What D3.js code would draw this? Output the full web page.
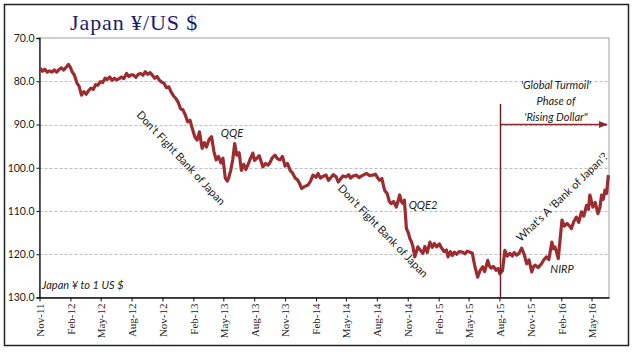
<!DOCTYPE html>
<html>
<head>
<meta charset="utf-8">
<script src="https://cdn.jsdelivr.net/npm/d3@7.9.0/dist/d3.min.js"></script>
<style>
  body { margin: 0; background: #fff; }
  svg { display: block; }
  .ann { font-family: Lato, "Open Sans", sans-serif; font-size: 11px; fill: #222; }
</style>
</head>
<body>
<svg id="chart" width="639" height="360"></svg>
<script>
// Japan yen per US dollar (roughly weekly)
const dates = [
  "2011-11-03","2011-11-10","2011-11-17","2011-11-24","2011-12-01","2011-12-08","2011-12-15",
  "2011-12-22","2011-12-29","2012-01-05","2012-01-12","2012-01-19","2012-01-26","2012-02-01",
  "2012-02-06","2012-02-13","2012-02-21","2012-02-27","2012-03-05","2012-03-12","2012-03-19",
  "2012-03-26","2012-04-02","2012-04-09","2012-04-16","2012-04-23","2012-04-30","2012-05-07",
  "2012-05-14","2012-05-21","2012-05-28","2012-06-04","2012-06-11","2012-06-18","2012-06-25",
  "2012-07-02","2012-07-09","2012-07-17","2012-07-24","2012-07-31","2012-08-07","2012-08-14",
  "2012-08-21","2012-08-28","2012-09-04","2012-09-11","2012-09-18","2012-09-25","2012-10-02",
  "2012-10-09","2012-10-16","2012-10-23","2012-10-30","2012-11-06","2012-11-13","2012-11-20",
  "2012-11-27","2012-12-04","2012-12-11","2012-12-18","2012-12-25","2013-01-01","2013-01-08",
  "2013-01-15","2013-01-22","2013-01-29","2013-02-05","2013-02-12","2013-02-19","2013-02-27",
  "2013-03-06","2013-03-12","2013-03-20","2013-03-27","2013-04-03","2013-04-10","2013-04-17",
  "2013-04-24","2013-04-30","2013-05-07","2013-05-13","2013-05-17","2013-05-23","2013-05-29",
  "2013-06-04","2013-06-10","2013-06-17","2013-06-24","2013-07-01","2013-07-07","2013-07-13",
  "2013-07-19","2013-07-28","2013-08-02","2013-08-09","2013-08-16","2013-08-27","2013-09-04",
  "2013-09-11","2013-09-17","2013-09-23","2013-10-02","2013-10-09","2013-10-17","2013-10-24",
  "2013-11-01","2013-11-08","2013-11-16","2013-11-23","2013-12-01","2013-12-08","2013-12-14",
  "2013-12-20","2013-12-30","2014-01-08","2014-01-15","2014-01-23","2014-02-01","2014-02-07",
  "2014-02-14","2014-02-21","2014-03-03","2014-03-10","2014-03-16","2014-03-24","2014-04-02",
  "2014-04-08","2014-04-15","2014-04-22","2014-05-02","2014-05-09","2014-05-15","2014-05-22",
  "2014-06-01","2014-06-09","2014-06-17","2014-06-24","2014-07-01","2014-07-10","2014-07-20",
  "2014-07-28","2014-08-04","2014-08-09","2014-08-16","2014-08-24","2014-09-01","2014-09-07",
  "2014-09-13","2014-09-20","2014-09-28","2014-10-08","2014-10-13","2014-10-17","2014-10-22",
  "2014-10-28","2014-11-03","2014-11-07","2014-11-12","2014-11-16","2014-11-22","2014-12-01",
  "2014-12-08","2014-12-16","2014-12-22","2014-12-29","2015-01-06","2015-01-13","2015-01-19",
  "2015-01-26","2015-02-03","2015-02-10","2015-02-17","2015-02-24","2015-03-01","2015-03-08",
  "2015-03-14","2015-03-20","2015-03-27","2015-04-03","2015-04-13","2015-04-20","2015-04-27",
  "2015-05-04","2015-05-12","2015-05-19","2015-05-28","2015-06-04","2015-06-12","2015-06-18",
  "2015-06-27","2015-07-02","2015-07-07","2015-07-14","2015-07-22","2015-07-28","2015-08-02",
  "2015-08-10","2015-08-17","2015-08-24","2015-09-01","2015-09-08","2015-09-14","2015-09-21",
  "2015-09-28","2015-10-06","2015-10-13","2015-10-21","2015-10-28","2015-11-05","2015-11-10",
  "2015-11-15","2015-11-24","2015-12-04","2015-12-11","2015-12-19","2015-12-26","2016-01-04",
  "2016-01-08","2016-01-13","2016-01-18","2016-01-23","2016-02-03","2016-02-10","2016-02-18",
  "2016-02-25","2016-03-02","2016-03-09","2016-03-17","2016-03-24","2016-04-01","2016-04-08",
  "2016-04-16","2016-04-22","2016-04-26","2016-05-05","2016-05-12","2016-05-20","2016-05-26",
  "2016-05-31","2016-06-05","2016-06-10","2016-06-15","2016-06-20"
];
const yen = [
  77.0, 77.7, 77.2, 77.9, 77.6, 77.9, 77.4,
  77.9, 77.3, 76.9, 77.4, 76.8, 76.1, 76.8,
  77.8, 78.6, 80.5, 81.2, 83.2, 82.4, 83.0,
  82.2, 81.6, 81.9, 80.8, 80.9, 80.1, 80.3,
  79.3, 79.6, 79.0, 79.8, 79.3, 79.7, 79.4,
  79.0, 79.4, 78.2, 78.9, 78.5, 78.6, 79.1,
  78.4, 78.2, 78.6, 77.8, 78.4, 78.0, 78.6,
  79.3, 78.9, 79.8, 80.2, 80.5, 81.5, 81.3,
  82.5, 83.4, 84.0, 84.9, 86.4, 86.6, 87.8,
  89.4, 89.0, 91.0, 92.8, 93.6, 91.7, 95.5,
  94.2, 95.2, 93.4, 92.8, 96.2, 98.2, 97.4,
  98.9, 97.8, 102.4, 103.1, 102.4, 100.6, 98.2,
  94.4, 97.1, 96.5, 100.6, 99.2, 100.4, 99.4,
  98.2, 96.6, 98.3, 97.8, 97.2, 99.8, 99.0,
  99.4, 98.8, 97.8, 97.1, 97.9, 98.2, 97.4,
  99.6, 99.0, 100.6, 101.2, 102.4, 102.8, 103.6,
  104.8, 104.3, 104.0, 103.2, 101.7, 102.2, 101.3,
  102.4, 102.0, 101.7, 102.9, 102.4, 101.6, 102.1,
  103.3, 102.6, 101.9, 102.1, 101.6, 102.4, 101.9,
  101.7, 102.3, 101.9, 101.6, 101.3, 101.8, 101.7,
  101.5, 102.4, 102.9, 102.5, 105.2, 106.0, 107.8,
  108.3, 107.8, 109.1, 106.3, 107.8, 108.2, 107.5,
  114.0, 115.1, 116.3, 117.1, 118.1, 120.6, 118.3,
  119.0, 119.8, 118.2, 119.6, 117.2, 118.4, 117.5,
  118.3, 117.6, 118.6, 119.4, 119.0, 120.6, 119.4,
  120.3, 119.5, 120.0, 119.4, 119.5, 119.9, 119.3,
  119.5, 119.7, 122.5, 125.3, 123.8, 122.9, 124.0,
  121.4, 122.7, 123.2, 122.8, 123.7, 123.3, 124.5,
  123.8, 119.1, 120.4, 119.8, 120.4, 119.6, 120.2,
  119.8, 118.6, 119.9, 122.2, 121.3, 124.1, 122.9,
  122.5, 123.1, 122.2, 121.3, 120.6, 121.2, 117.2,
  118.7, 118.3, 119.5, 121.0, 112.1, 113.5, 112.9,
  113.4, 114.1, 112.5, 111.4, 112.6, 110.2, 111.2,
  108.7, 109.6, 106.3, 109.1, 108.0, 110.6, 109.2,
  106.3, 107.3, 105.2, 105.9, 101.7
];
const yTicks = [70, 80, 90, 100, 110, 120, 130];
const xTickMonths = ["2011-11","2012-02","2012-05","2012-08","2012-11","2013-02","2013-05",
  "2013-08","2013-11","2014-02","2014-05","2014-08","2014-11","2015-02","2015-05","2015-08",
  "2015-11","2016-02","2016-05"];
const turmoilStart = "2015-08-04";
const turmoilLines = ["'Global Turmoil'", "Phase of", "'Rising Dollar\""];

const parseDay = d3.timeParse("%Y-%m-%d");
const parseMonth = d3.timeParse("%Y-%m");
const fmtMonth = d3.timeFormat("%b-%y");
const series = dates.map((d, i) => ({ date: parseDay(d), value: yen[i] }));

const svg = d3.select("#chart");
const plotL = 39.5, plotR = 609, plotT = 38, plotB = 297.5;

const x = d3.scaleTime()
  .domain([parseDay("2011-11-01"), parseDay("2016-06-22")])
  .range([plotL, plotR]);
const y = d3.scaleLinear().domain([70, 130]).range([plotT, plotB]);

// outer frame
svg.append("rect")
  .attr("x", 4.5).attr("y", 4.5).attr("width", 624).attr("height", 341)
  .attr("fill", "none").attr("stroke", "#222").attr("stroke-width", 1.5);

// title
svg.append("text")
  .attr("x", 70).attr("y", 30)
  .attr("font-family", "'Liberation Serif', 'DejaVu Serif', serif")
  .attr("font-size", 22)
  .attr("letter-spacing", 0.9)
  .attr("fill", "#1c1c6e")
  .text("Japan ¥/US $");

// plot area border
svg.append("rect")
  .attr("x", plotL).attr("y", plotT).attr("width", plotR - plotL).attr("height", plotB - plotT)
  .attr("fill", "none").attr("stroke", "#a0a0a0").attr("stroke-width", 1);

// gridlines
svg.append("g")
  .selectAll("line")
  .data(yTicks.filter(t => t > 70 && t < 130))
  .join("line")
  .attr("x1", plotL).attr("x2", plotR)
  .attr("y1", d => Math.round(y(d)) + 0.5).attr("y2", d => Math.round(y(d)) + 0.5)
  .attr("stroke", "#bdbdbd").attr("stroke-dasharray", "3,2");

// y axis
const yAxis = svg.append("g")
  .attr("transform", `translate(${plotL},0)`)
  .call(d3.axisLeft(y).tickValues(yTicks).tickFormat(d3.format(".1f")).tickSize(3).tickPadding(2));
yAxis.select(".domain").attr("stroke", "#111").attr("stroke-width", 1.3);
yAxis.selectAll(".tick line").attr("stroke", "#111");
yAxis.selectAll(".tick text")
  .attr("font-family", "Lato, 'Open Sans', sans-serif")
  .attr("font-size", 10.5)
  .attr("fill", "#222");

// x axis
const xAxis = svg.append("g")
  .attr("transform", `translate(0,${plotB})`)
  .call(d3.axisBottom(x)
    .tickValues(xTickMonths.map(parseMonth))
    .tickFormat(fmtMonth)
    .tickSize(4)
    .tickSizeOuter(0));
xAxis.select(".domain").attr("stroke", "#111").attr("stroke-width", 1.3);
xAxis.selectAll(".tick line").attr("stroke", "#111");
xAxis.selectAll(".tick text")
  .attr("font-family", "'Liberation Serif', 'DejaVu Serif', serif")
  .attr("font-size", 11)
  .attr("fill", "#222")
  .attr("transform", "rotate(-90)")
  .attr("text-anchor", "end")
  .attr("x", -6).attr("y", 0).attr("dy", "0.35em");

// data line
const line = d3.line().x(d => x(d.date)).y(d => y(d.value));
svg.append("path")
  .datum(series)
  .attr("d", line)
  .attr("fill", "none")
  .attr("stroke", "#9b2c2f")
  .attr("stroke-width", 3.2)
  .attr("stroke-linejoin", "round");

// turmoil marker
const xm = Math.round(x(parseDay(turmoilStart))) + 0.5;
svg.append("defs").append("marker")
  .attr("id", "arrow").attr("viewBox", "0 0 10 10")
  .attr("refX", 9).attr("refY", 5)
  .attr("markerWidth", 6).attr("markerHeight", 6)
  .attr("orient", "auto")
  .append("path").attr("d", "M0,1 L10,5 L0,9 z").attr("fill", "#8a2a2e");
svg.append("line")
  .attr("x1", xm).attr("x2", xm).attr("y1", 104).attr("y2", plotB)
  .attr("stroke", "#6e2226").attr("stroke-width", 1.5);
svg.append("line")
  .attr("x1", xm).attr("x2", plotR - 2).attr("y1", y(90)).attr("y2", y(90))
  .attr("stroke", "#8a2a2e").attr("stroke-width", 1.5)
  .attr("marker-end", "url(#arrow)");

svg.append("g")
  .selectAll("text")
  .data(turmoilLines)
  .join("text")
  .attr("class", "ann")
  .attr("x", 556).attr("y", (d, i) => 89 + i * 16)
  .attr("text-anchor", "middle")
  .attr("font-style", "italic")
  .text(d => d);

// annotations
const notes = [
  { t: "Don't Fight Bank of Japan", x: 181, y: 158, r: 47, it: false },
  { t: "Don't Fight Bank of Japan", x: 383, y: 231, r: 46, it: false },
  { t: "What's A 'Bank of Japan'?", x: 562, y: 197, r: -44, it: false },
  { t: "QQE", x: 232, y: 133, r: 0, it: true },
  { t: "QQE2", x: 423, y: 205, r: 0, it: true },
  { t: "NIRP", x: 562, y: 269, r: 0, it: true }
];
svg.append("g")
  .selectAll("text")
  .data(notes)
  .join("text")
  .attr("class", "ann")
  .attr("text-anchor", "middle")
  .attr("dy", "0.35em")
  .attr("font-style", d => d.it ? "italic" : "normal")
  .attr("transform", d => `translate(${d.x},${d.y}) rotate(${d.r})`)
  .text(d => d.t);

svg.append("text")
  .attr("class", "ann")
  .attr("x", 42).attr("y", 289)
  .attr("font-style", "italic")
  .text("Japan ¥ to 1 US $");
</script>
</body>
</html>
